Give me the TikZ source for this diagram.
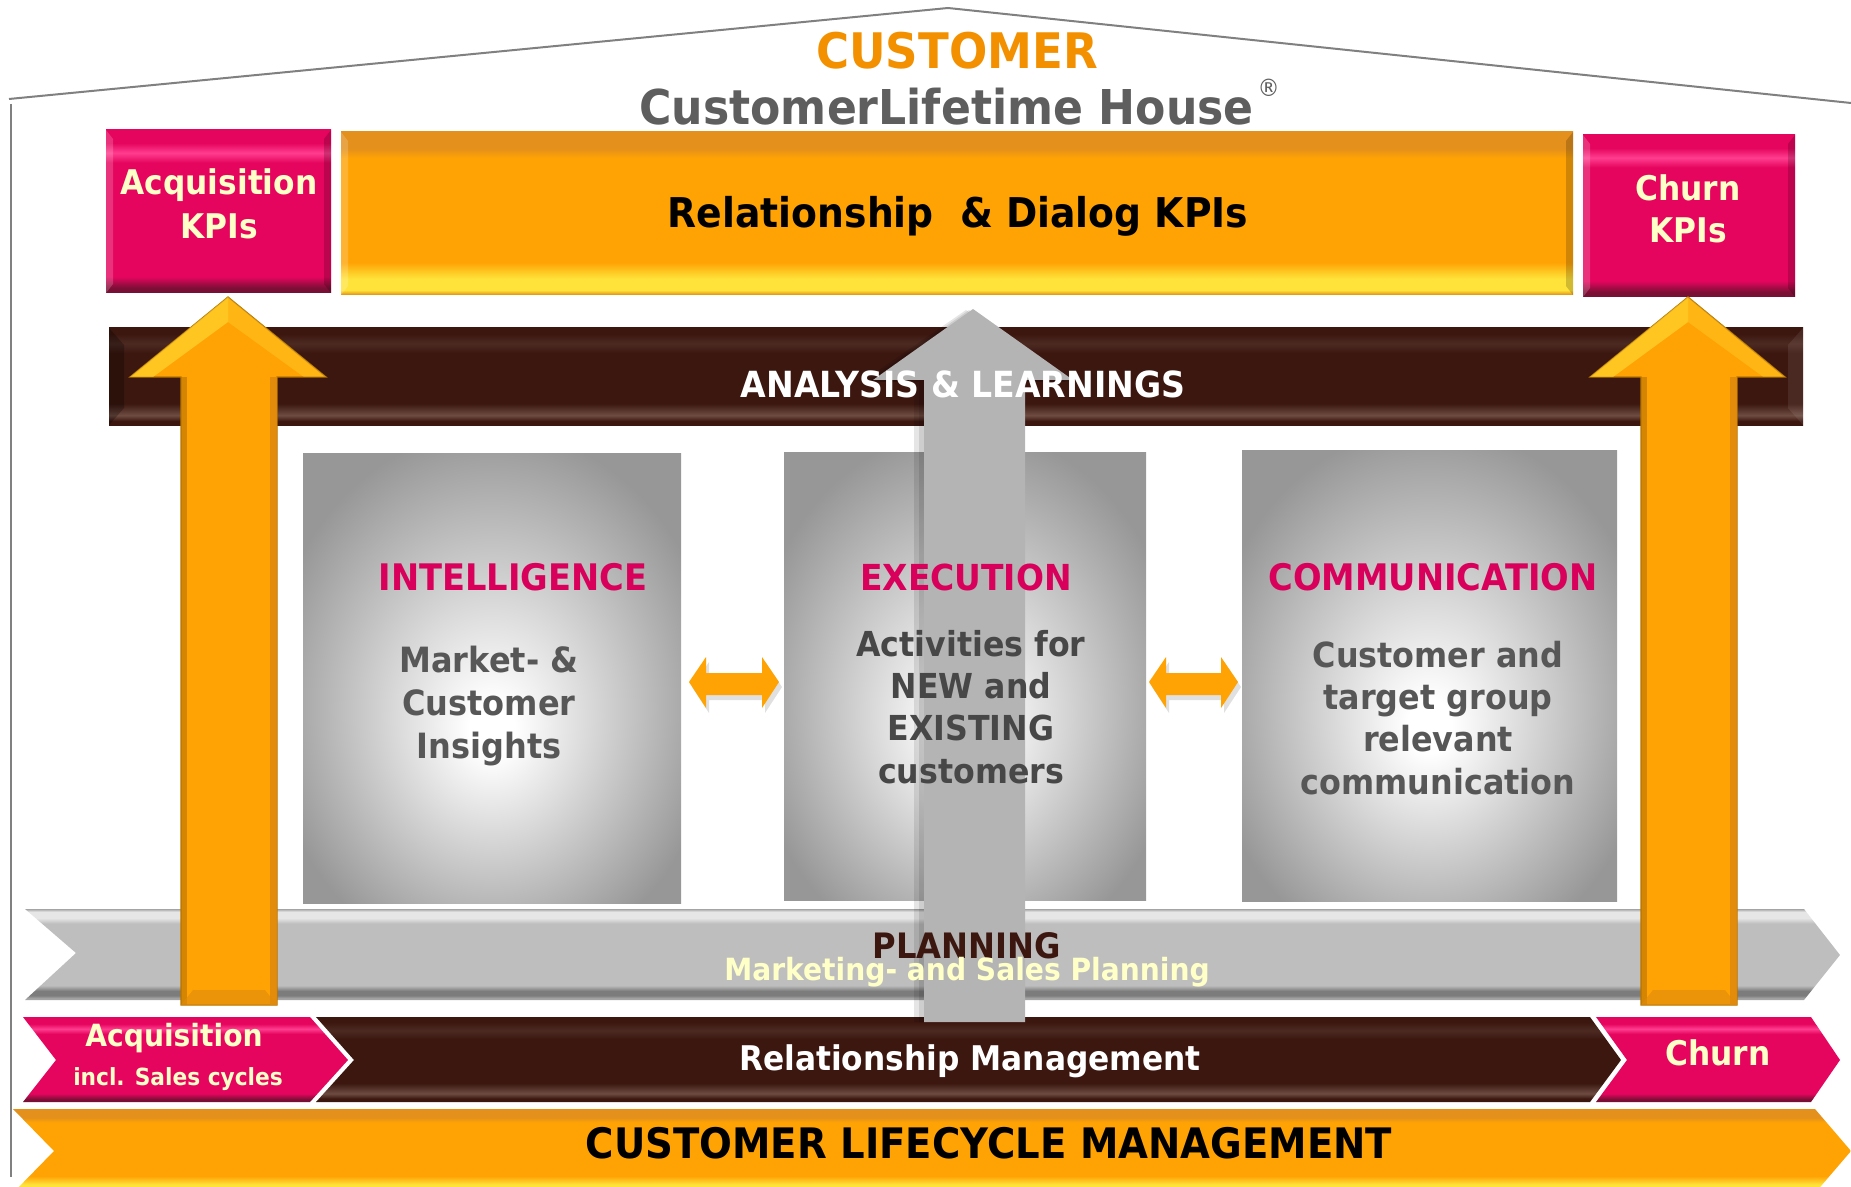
\documentclass[tikz,border=0pt]{standalone}
\usepackage{fontspec}
\setmainfont{DejaVu Sans}[FakeStretch=0.92]
\usetikzlibrary{calc}
\definecolor{pk}{HTML}{E5055E}
\definecolor{pklt}{HTML}{FF3D8F}
\definecolor{pkdk}{HTML}{7A0F35}
\definecolor{lyel}{HTML}{FFFFC8}
\definecolor{or}{HTML}{FFA305}
\definecolor{ortop}{HTML}{E3901C}
\definecolor{oryl}{HTML}{FFE33A}
\definecolor{ordk}{HTML}{E08A0C}
\definecolor{orline}{HTML}{B87300}
\definecolor{br}{HTML}{3B1710}
\definecolor{brlta}{HTML}{4C2A22}
\definecolor{brltb}{HTML}{6E4C42}
\definecolor{gy}{HTML}{BEBEBE}
\definecolor{gylt}{HTML}{E6E6E6}
\definecolor{gydk}{HTML}{7C7C7C}
\definecolor{gyrim}{HTML}{A4A4A4}
\definecolor{gynine}{HTML}{979797}
\definecolor{arrgy}{HTML}{B4B4B4}
\definecolor{ttlpk}{HTML}{D9005B}
\definecolor{bodygy}{HTML}{575757}
\definecolor{bodydk}{HTML}{474747}
\definecolor{custor}{HTML}{F29000}
\definecolor{clhgy}{HTML}{5E5E5E}
\definecolor{roofgy}{HTML}{808080}
\pgfdeclareverticalshading{pinkbev}{100bp}{color(0bp)=(pkdk); color(25bp)=(pkdk); color(26.5bp)=(pkdk); color(30bp)=(pk); color(65bp)=(pk); color(68bp)=(pklt); color(71bp)=(pk); color(75bp)=(pk); color(100bp)=(pk)}
\pgfdeclareverticalshading{orbev}{100bp}{color(0bp)=(ordk); color(25bp)=(ordk); color(26.5bp)=(oryl); color(30bp)=(oryl); color(35bp)=(or); color(67bp)=(or); color(70bp)=(ortop); color(75bp)=(ortop); color(100bp)=(ortop)}
\pgfdeclareverticalshading{brbev}{100bp}{color(0bp)=(br); color(25bp)=(br); color(27bp)=(br); color(30bp)=(brltb); color(36bp)=(br); color(62bp)=(br); color(67bp)=(brlta); color(72bp)=(br); color(75bp)=(br); color(100bp)=(br)}
\pgfdeclareverticalshading{gybev}{100bp}{color(0bp)=(gyrim); color(25bp)=(gyrim); color(26bp)=(gyrim); color(27.5bp)=(gydk); color(30bp)=(gydk); color(33bp)=(gy); color(67bp)=(gy); color(70bp)=(gylt); color(73.5bp)=(gylt); color(75bp)=(gyrim); color(100bp)=(gyrim)}
\pgfdeclareradialshading{boxrad}{\pgfpoint{0bp}{-6bp}}{color(0bp)=(white); color(3bp)=(white); color(30bp)=(gynine); color(50bp)=(gynine)}
\newcommand\fsz[2]{\fontsize{#1pt}{#2pt}\selectfont\bfseries}
\tikzset{
  txt/.style={inner sep=0pt, anchor=base},
  roofline/.style={draw=roofgy, line width=1pt},
  orarrow/.style={fill=or, draw=orline, line width=0.6pt},
  dblarrow/.style={fill=or},
}
\begin{document}
\begin{tikzpicture}[x=0.5pt,y=-0.5pt]
\path[use as bounding box] (0,0) rectangle (1851,1187);
\begin{scope}
\clip (0,0) rectangle (1851,1187);
% house outline
\draw[roofline] (9,99) -- (948,8) -- (1851,103);
\draw[roofline] (11,104) -- (11,1177);
% titles
\node[txt, font=\fsz{24.5}{28}, text=custor] (customer) at (957,69) {CUSTOMER};
\node[txt, anchor=base west, font=\fsz{24}{28}, text=clhgy] (clh) at (639,125) {CustomerLifetime House{\fontsize{12pt}{12pt}\selectfont\mdseries\kern2pt\raisebox{14pt}{®}}};
% top boxes
\shade[shading=pinkbev] (106,130) rectangle (331,293);
\shade[shading=orbev] (341,132) rectangle (1573,295);
\shade[shading=pinkbev] (1583,135) rectangle (1795,297);
\foreach \l/\t/\r/\b in {106/130/331/293, 1583/135/1795/297, 341/132/1573/295}{
  \fill[white, opacity=0.18] (\l,\t) -- ($(\l,\t)+(7,9)$) -- ($(\l,\b)+(7,-9)$) -- (\l,\b) -- cycle;
  \fill[black, opacity=0.18] (\r,\t) -- ($(\r,\t)+(-7,9)$) -- ($(\r,\b)+(-7,-9)$) -- (\r,\b) -- cycle;
}
% analysis bar
\shade[shading=brbev] (109,328) rectangle (1803,425);
\fill[black, opacity=0.25] (109,328) -- (124,345) -- (124,408) -- (109,425) -- cycle;
\fill[white, opacity=0.08] (1803,328) -- (1788,345) -- (1788,408) -- (1803,425) -- cycle;
% three boxes
\shade[shading=boxrad] (303,453) rectangle (681,903);
\shade[shading=boxrad] (784,452) rectangle (1146,900);
\shade[shading=boxrad] (1242,450) rectangle (1617,901);
% double arrows
\foreach \a/\b/\c/\d in {689/706/762/779, 1149/1166/1221/1238}{
  \fill[black, opacity=0.12] ($(\a,682)+(3,5)$) -- ($(\b,657)+(3,5)$) -- ($(\b,673)+(3,5)$) -- ($(\c,673)+(3,5)$) -- ($(\c,657)+(3,5)$) -- ($(\d,682)+(3,5)$) -- ($(\c,708)+(3,5)$) -- ($(\c,695)+(3,5)$) -- ($(\b,695)+(3,5)$) -- ($(\b,708)+(3,5)$) -- cycle;
  \fill[dblarrow] (\a,682) -- (\b,657) -- (\b,673) -- (\c,673) -- (\c,657) -- (\d,682) -- (\c,708) -- (\c,695) -- (\b,695) -- (\b,708) -- cycle;
}
% planning band
\shade[shading=gybev] (25,909) -- (1804,909) -- (1840,955) -- (1804,1000) -- (25,1000) -- (76,953) -- cycle;
% bottom chevrons
\shade[shading=pinkbev] (23,1017) -- (310,1017) -- (348,1060) -- (310,1102) -- (23,1102) -- (56,1060) -- cycle;
\shade[shading=brbev] (316,1017) -- (1590,1017) -- (1621,1060) -- (1590,1102) -- (316,1102) -- (354,1060) -- cycle;
\shade[shading=pinkbev] (1596,1017) -- (1811,1017) -- (1840,1060) -- (1811,1102) -- (1596,1102) -- (1627,1060) -- cycle;
\shade[shading=orbev] (13,1109) -- (1815,1109) -- (1851,1151) -- (1815,1193) -- (13,1193) -- (54,1151) -- cycle;
% centre grey arrow with shadow
\fill[black, opacity=0.10] (966,310) -- (1066,382) -- (1018,382) -- (1018,1022) -- (914,1022) -- (914,382) -- (862,382) -- cycle;
\fill[black, opacity=0.10] (969,310) -- (1070,382) -- (1021,382) -- (1021,1022) -- (919,1022) -- (919,382) -- (866,382) -- cycle;
\fill[arrgy] (973,309) -- (1073,380) -- (1025,380) -- (1025,1022) -- (924,1022) -- (924,380) -- (873,380) -- cycle;
% side orange arrows
\foreach \l/\r/\hl/\hr/\t in {181/277/130/326/228, 1641/1737/1590/1785/1688}{
  \path[orarrow] (\t,297) -- (\hr,377) -- (\r,377) -- (\r,1005) -- (\l,1005) -- (\l,377) -- (\hl,377) -- cycle;
  \fill[oryl, opacity=0.55] (\t,297) -- (\hl,377) -- ($(\hl,377)!0.45!(\l,377)$) -- (\t,322) -- cycle;
  \fill[oryl, opacity=0.3] (\t,297) -- (\hr,377) -- ($(\hr,377)!0.45!(\r,377)$) -- (\t,322) -- cycle;
  \fill[orline, opacity=0.6] (\l,377) rectangle ($(\l,1005)+(6,0)$);
  \fill[ordk, opacity=0.9] ($(\r,377)+(-7,0)$) rectangle (\r,1005);
  \fill[ordk, opacity=0.6] (\l,1005) -- (\r,1005) -- ($(\r,990)+(-12,0)$) -- ($(\l,990)+(12,0)$) -- cycle;
}
% texts
\node[txt, font=\fsz{17}{22}, text=lyel] (acqkpi) at (219,195) {\begin{tabular}[t]{@{}c@{}}Acquisition\\KPIs\end{tabular}};
\node[txt, font=\fsz{20.5}{24}, text=black] (rdkpi) at (958,228) {Relationship~~\& Dialog KPIs};
\node[txt, font=\fsz{17}{21}, text=lyel] (churnkpi) at (1688,201) {\begin{tabular}[t]{@{}c@{}}Churn\\KPIs\end{tabular}};
\node[txt, font=\fsz{18}{21}, text=white] (analysis) at (963,397) {ANALYSIS \& LEARNINGS};
\node[txt, font=\fsz{18.3}{21}, text=ttlpk] (intel) at (513,590) {INTELLIGENCE};
\node[txt, font=\fsz{17.4}{21.5}, text=bodygy] (intelbody) at (489,672) {\begin{tabular}[t]{@{}c@{}}Market- \&\\Customer\\Insights\end{tabular}};
\node[txt, font=\fsz{17.9}{21}, text=ttlpk] (exec) at (966,590) {EXECUTION};
\node[txt, font=\fsz{17.2}{21.2}, text=bodydk] (execbody) at (971,656) {\begin{tabular}[t]{@{}c@{}}Activities for\\NEW and\\EXISTING\\customers\end{tabular}};
\node[txt, font=\fsz{18.3}{21}, text=ttlpk] (comm) at (1433,590) {COMMUNICATION};
\node[txt, font=\fsz{17.3}{21.2}, text=bodygy] (commbody) at (1438,667) {\begin{tabular}[t]{@{}c@{}}Customer and\\target group\\relevant\\communication\end{tabular}};
\node[txt, font=\fsz{17.5}{19}, text=br] (planning) at (967,958) {PLANNING};
\node[txt, font=\fsz{15.3}{18}, text=lyel] (mktplan) at (967,980) {Marketing- and Sales Planning};
\node[txt, font=\fsz{15.3}{18}, text=lyel] (acq) at (174,1046) {Acquisition};
\node[txt, font=\fsz{11.8}{14}, text=lyel] (acqincl) at (178,1085) {incl. Sales cycles};
\node[txt, font=\fsz{17}{20}, text=white] (relmgmt) at (970,1070) {Relationship Management};
\node[txt, font=\fsz{17}{20}, text=lyel] (churn) at (1718,1065) {Churn};
\node[txt, font=\fsz{21}{25}, text=black] (clm) at (989,1158) {CUSTOMER LIFECYCLE MANAGEMENT};
\end{scope}
\end{tikzpicture}
\end{document}
